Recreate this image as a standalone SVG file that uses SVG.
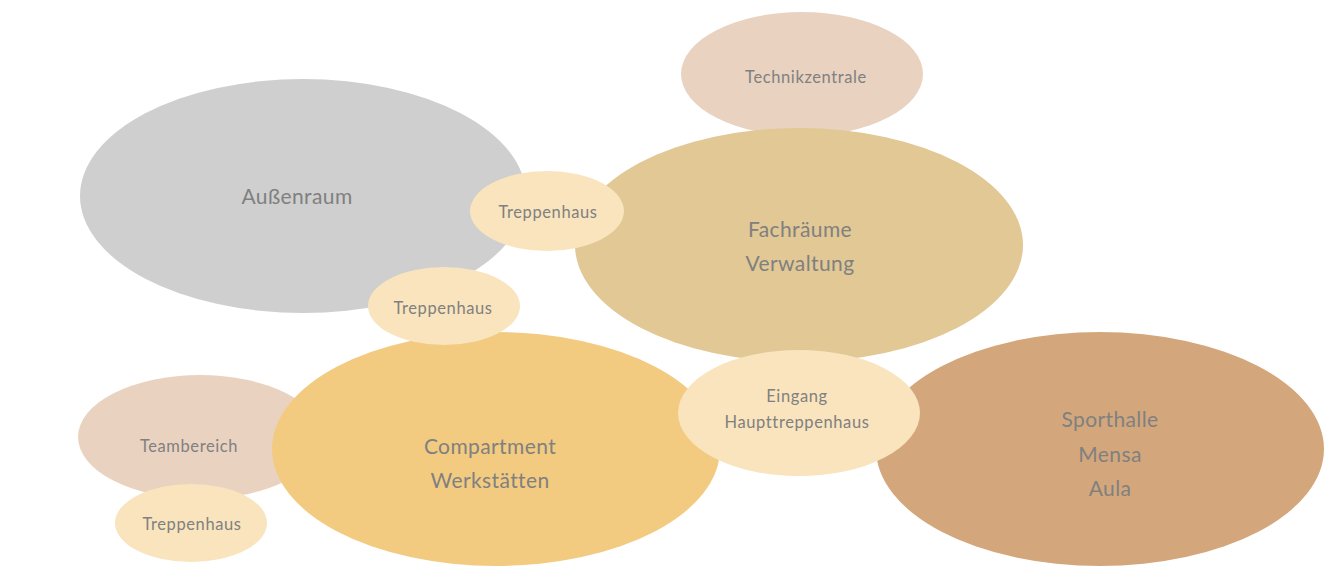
<svg xmlns="http://www.w3.org/2000/svg" width="1336" height="586" viewBox="0 0 1336 586">
<style>
text{font-family:Lato,"Open Sans","Liberation Sans",sans-serif;fill:#808080;text-anchor:middle;dominant-baseline:central}
.big{font-size:21px;letter-spacing:0.4px}
.small{font-size:16.5px;letter-spacing:0.6px}
</style>
<rect width="1336" height="586" fill="#ffffff"/>
<g id="technikzentrale"><ellipse cx="802" cy="74" rx="121" ry="62" fill="#e9d3c0"/><text class="small" x="806" y="77">Technikzentrale</text></g>
<g id="aussenraum"><ellipse cx="303" cy="196" rx="223" ry="117" fill="#cfcfcf"/><text class="big" x="297" y="195">Außenraum</text></g>
<g id="fachraeume"><ellipse cx="799" cy="245" rx="224" ry="117" fill="#e1c895"/><text class="big" x="800" y="228">Fachräume</text><text class="big" x="800" y="262">Verwaltung</text></g>
<g id="treppenhaus1"><ellipse cx="547" cy="211" rx="77" ry="40" fill="#f9e4bd"/><text class="small" x="548" y="212">Treppenhaus</text></g>
<g id="teambereich"><ellipse cx="200" cy="437" rx="122" ry="62" fill="#e9d3c0"/><text class="small" x="189" y="446">Teambereich</text></g>
<g id="compartment"><ellipse cx="496" cy="449" rx="224" ry="117" fill="#f2cb80"/><text class="big" x="490" y="445">Compartment</text><text class="big" x="490" y="479">Werkstätten</text></g>
<g id="treppenhaus2"><ellipse cx="444" cy="306" rx="76" ry="39" fill="#f9e4bd"/><text class="small" x="443" y="308">Treppenhaus</text></g>
<g id="treppenhaus3"><ellipse cx="191" cy="523" rx="76" ry="39" fill="#f9e4bd"/><text class="small" x="192" y="524">Treppenhaus</text></g>
<g id="sporthalle"><ellipse cx="1100" cy="449" rx="224" ry="117" fill="#d3a77b"/><text class="big" x="1110" y="418">Sporthalle</text><text class="big" x="1110" y="453">Mensa</text><text class="big" x="1110" y="487">Aula</text></g>
<g id="eingang"><ellipse cx="799" cy="413" rx="121" ry="63" fill="#f9e4bd"/><text class="small" x="797" y="396">Eingang</text><text class="small" x="797" y="422">Haupttreppenhaus</text></g>
<g id="connectors"></g>
</svg>
